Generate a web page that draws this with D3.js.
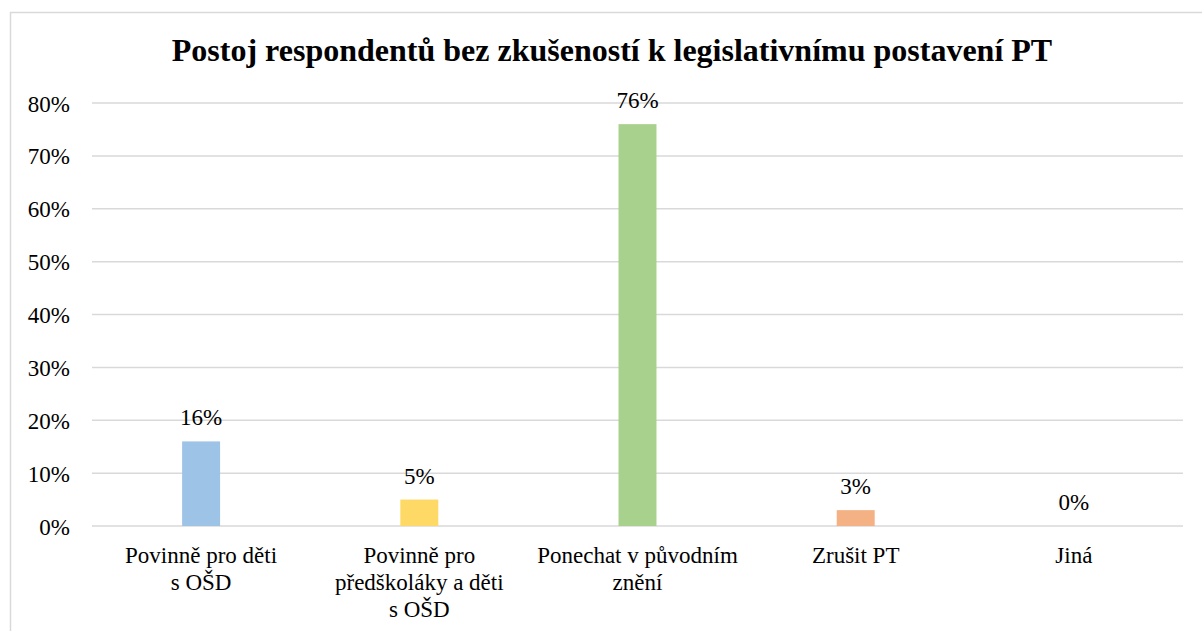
<!DOCTYPE html>
<html>
<head>
<meta charset="utf-8">
<script src="https://cdn.jsdelivr.net/npm/d3@7"></script>
<style>
  body { margin: 0; background: #fff; }
  svg { display: block; }
  text { font-family: "Liberation Serif", "DejaVu Serif", serif; }
</style>
</head>
<body>
<svg id="chart" width="1202" height="631"></svg>
<script>
const categories = [
    ["Povinně pro děti", "s OŠD"],
    ["Povinně pro", "předškoláky a děti", "s OŠD"],
    ["Ponechat v původním", "znění"],
    ["Zrušit PT"],
    ["Jiná"]
];
const values = [16, 5, 76, 3, 0];
const colors = ["#9dc3e6", "#ffd966", "#a9d18e", "#f4b183", "#c9c9c9"];
const yTicks = [0, 10, 20, 30, 40, 50, 60, 70, 80];
const title = "Postoj respondentů bez zkušeností k legislativnímu postavení PT";

const svg = d3.select("#chart");

// chart frame
svg.append("path")
    .attr("d", "M10.5,640 V12.5 H1210")
    .attr("fill", "none")
    .attr("stroke", "#d9d9d9")
    .attr("stroke-width", 1.5);

const plotL = 92, plotR = 1183, plotT = 103, plotB = 526;

const x = d3.scaleBand()
    .domain(d3.range(values.length))
    .range([plotL, plotR])
    .paddingInner(0.826)
    .paddingOuter(0.413);

const y = d3.scaleLinear().domain([0, 80]).range([plotB, plotT]);

svg.append("text")
    .attr("x", 612)
    .attr("y", 61)
    .attr("text-anchor", "middle")
    .style("font-weight", "bold")
    .style("font-size", "32px")
    .text(title);

// gridlines
svg.append("g").selectAll("line")
    .data(yTicks)
    .enter().append("line")
    .attr("x1", plotL)
    .attr("x2", plotR)
    .attr("y1", d => y(d))
    .attr("y2", d => y(d))
    .attr("stroke", "#d9d9d9")
    .attr("stroke-width", 1.5);

// y axis labels
const yAxis = d3.axisLeft(y).tickValues(yTicks).tickFormat(d => d + "%").tickSize(0).tickPadding(0);
const yg = svg.append("g").attr("transform", "translate(70,0)").call(yAxis);
yg.select(".domain").remove();
yg.attr("font-family", null);
yg.selectAll("text")
    .style("font-size", "23px")
    .attr("fill", "#000")
    .attr("dy", "0.35em");

// bars
svg.append("g").selectAll("rect")
    .data(values)
    .enter().append("rect")
    .attr("x", (d, i) => x(i))
    .attr("width", x.bandwidth())
    .attr("y", d => y(d))
    .attr("height", d => y(0) - y(d))
    .attr("fill", (d, i) => colors[i]);

// value labels
svg.append("g").selectAll("text")
    .data(values)
    .enter().append("text")
    .attr("x", (d, i) => x(i) + x.bandwidth() / 2)
    .attr("y", d => y(d) - 16)
    .attr("text-anchor", "middle")
    .style("font-size", "23px")
    .attr("fill", "#000")
    .text(d => d + "%");

// category labels
const cat = svg.append("g").selectAll("text")
    .data(categories)
    .enter().append("text")
    .attr("x", (d, i) => x(i) + x.bandwidth() / 2)
    .attr("y", 563)
    .attr("text-anchor", "middle")
    .style("font-size", "23px")
    .attr("fill", "#000");

cat.selectAll("tspan")
    .data(d => d)
    .enter().append("tspan")
    .attr("x", function () { return d3.select(this.parentNode).attr("x"); })
    .attr("dy", (d, i) => i === 0 ? 0 : 27)
    .text(d => d);
</script>
</body>
</html>
